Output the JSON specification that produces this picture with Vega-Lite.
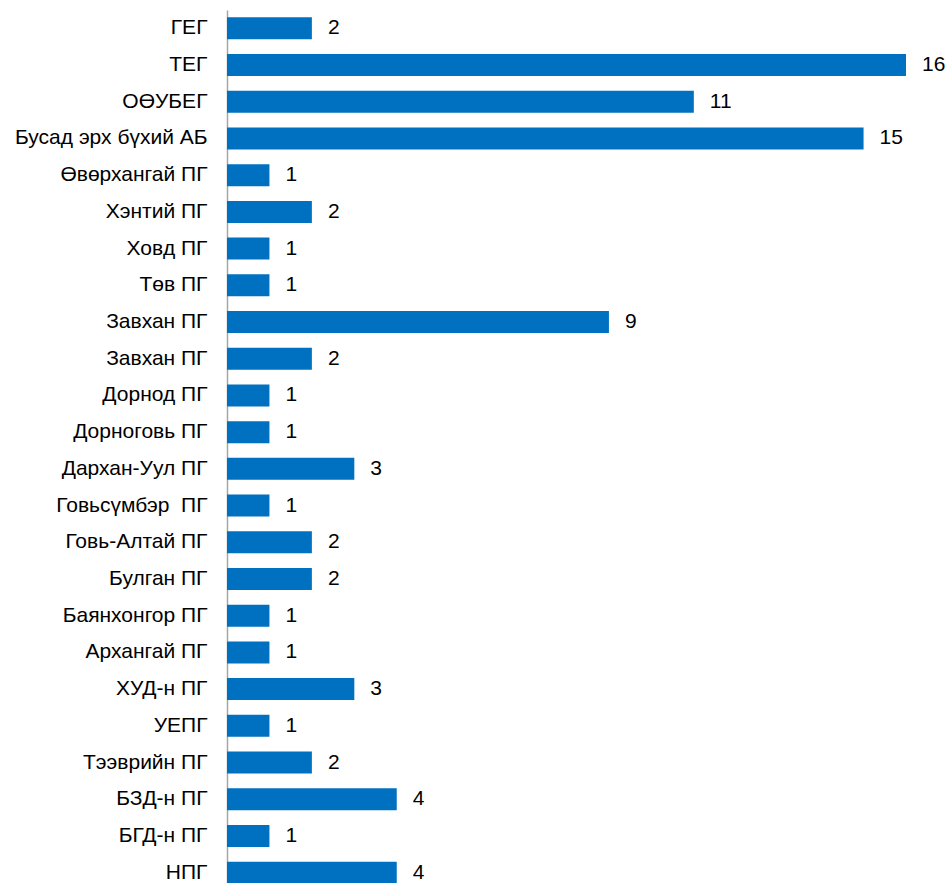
{
  "$schema": "https://vega.github.io/schema/vega-lite/v6.json",
  "autosize": {"type": "none"},
  "padding": {"left": 227, "top": 10, "right": 45, "bottom": 0},
  "width": 679,
  "height": 881,
  "background": "white",
  "config": {"view": {"stroke": null}, "font": "Liberation Sans"},
  "data": {"values": [
    {"name": "ГЕГ", "value": 2},
    {"name": "ТЕГ", "value": 16},
    {"name": "ОӨУБЕГ", "value": 11},
    {"name": "Бусад эрх бүхий АБ", "value": 15},
    {"name": "Өвөрхангай ПГ", "value": 1},
    {"name": "Хэнтий ПГ", "value": 2},
    {"name": "Ховд ПГ", "value": 1},
    {"name": "Төв ПГ", "value": 1},
    {"name": "Завхан ПГ", "value": 9},
    {"name": "Завхан ПГ\u200b", "value": 2},
    {"name": "Дорнод ПГ", "value": 1},
    {"name": "Дорноговь ПГ", "value": 1},
    {"name": "Дархан-Уул ПГ", "value": 3},
    {"name": "Говьсүмбэр\u00a0 ПГ", "value": 1},
    {"name": "Говь-Алтай ПГ", "value": 2},
    {"name": "Булган ПГ", "value": 2},
    {"name": "Баянхонгор ПГ", "value": 1},
    {"name": "Архангай ПГ", "value": 1},
    {"name": "ХУД-н ПГ", "value": 3},
    {"name": "УЕПГ", "value": 1},
    {"name": "Тээврийн ПГ", "value": 2},
    {"name": "БЗД-н ПГ", "value": 4},
    {"name": "БГД-н ПГ", "value": 1},
    {"name": "НПГ", "value": 4}
  ]},
  "encoding": {
    "y": {
      "field": "name", "type": "nominal", "sort": null,
      "scale": {"paddingInner": 0.4, "paddingOuter": 0.2},
      "axis": {
        "title": null, "ticks": false, "labelPadding": 20, "labelLimit": 0,
        "labelFontSize": 21, "labelFontWeight": "normal", "labelColor": "#000", "labelFont": "Liberation Sans",
        "domainColor": "#A6A6A6", "domainWidth": 1.5, "grid": false
      }
    },
    "x": {
      "field": "value", "type": "quantitative",
      "scale": {"domain": [0, 16], "nice": false},
      "axis": null
    }
  },
  "layer": [
    {"mark": {"type": "bar", "color": "#0070C0"}},
    {"mark": {"type": "text", "align": "left", "dx": 16, "fontSize": 21, "fontWeight": "normal", "color": "#000", "font": "Liberation Sans"},
     "encoding": {"text": {"field": "value", "type": "quantitative"}}}
  ]
}
